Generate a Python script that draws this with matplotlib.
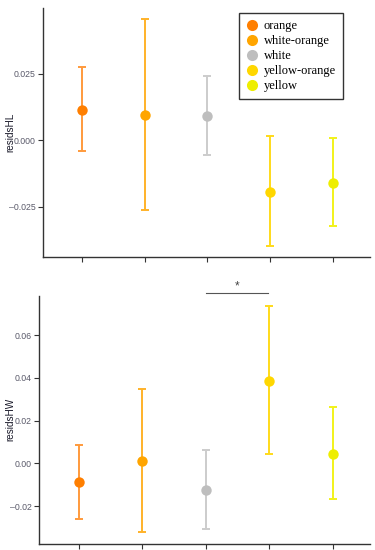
import numpy as np
from matplotlib import pyplot as plt
from matplotlib.lines import Line2D

# data
groups = ["orange", "white-orange", "white", "yellow-orange", "yellow"]
colors = ["#FF7F00", "#FFA500", "#BEBEBE", "#FFD700", "#EEEE00"]
bar_colors = ["#FF9A3C", "#FFB229", "#CCCCCC", "#FFDA1A", "#F2F21A"]

hl_mean = [0.0113, 0.0093, 0.0091, -0.0194, -0.0160]
hl_low = [-0.0040, -0.0262, -0.0055, -0.0397, -0.0323]
hl_high = [0.0274, 0.0455, 0.0242, 0.0016, 0.0010]

hw_mean = [-0.0089, 0.0011, -0.0125, 0.0387, 0.0044]
hw_low = [-0.0260, -0.0321, -0.0309, 0.0042, -0.0168]
hw_high = [0.0086, 0.0348, 0.0064, 0.0736, 0.0262]

hl_ticks = [-0.025, 0.0, 0.025]
hw_ticks = [-0.02, 0.0, 0.02, 0.04, 0.06]

plt.rcParams['font.family'] = ['Liberation Sans', 'DejaVu Sans']

fig = plt.figure(figsize=(3.75, 5.5), dpi=100)
ax1 = fig.add_axes([0.1147, 0.5327, 0.872, 0.4527])
ax2 = fig.add_axes([0.105, 0.0115, 0.882, 0.4509])

x = np.arange(1, len(groups) + 1)


def draw(ax, mean, low, high, ticks, fmt, label, ylim, labelx):
    for i in range(len(groups)):
        ax.errorbar(x[i], mean[i],
                    yerr=[[mean[i] - low[i]], [high[i] - mean[i]]],
                    fmt="none", ecolor=bar_colors[i], elinewidth=1.4,
                    capsize=3, capthick=1.4, zorder=2)
        ax.plot(x[i], mean[i], "o", color=colors[i], markersize=7.5,
                markeredgewidth=0, zorder=3)
    ax.set_xlim(0.38, 5.59)
    ax.set_ylim(*ylim)
    ax.set_xticks(x)
    ax.set_xticklabels([])
    ax.set_yticks(ticks)
    ax.set_yticklabels([fmt.format(t).replace("-", "\u2013") for t in ticks])
    for s in ["top", "right"]:
        ax.spines[s].set_visible(False)
    for s in ["left", "bottom"]:
        ax.spines[s].set_color("#333333")
        ax.spines[s].set_linewidth(1.0)
    ax.tick_params(colors="#333333", labelcolor="#5a5a6a", labelsize=6.3,
                   length=3.5, width=0.8, pad=2)
    ax.set_ylabel(label, fontsize=7.2, color="#1a1a2a")
    ax.yaxis.set_label_coords(labelx, 0.5)


draw(ax1, hl_mean, hl_low, hl_high, hl_ticks, "{:.3f}", "residsHL",
     (-0.0439, 0.0497), -0.0856)
draw(ax2, hw_mean, hw_low, hw_high, hw_ticks, "{:.2f}", "residsHW",
     (-0.0376, 0.0785), -0.0735)

# significance bar between white and yellow-orange
ax2.plot([3.0, 3.98], [0.0799, 0.0799], color="#555555", lw=0.8,
         clip_on=False)
ax2.text(3.49, 0.0800, "*", ha="center", va="bottom", fontsize=8.5,
         color="#444444", clip_on=False)

handles = [Line2D([], [], marker="o", ls="none", color=c, markersize=8,
                  markeredgewidth=0) for c in colors]
leg = ax1.legend(handles, groups, loc="upper right",
                 bbox_to_anchor=(343 / 375, 537 / 550),
                 bbox_transform=fig.transFigure, borderaxespad=0,
                 frameon=True, fancybox=False,
                 prop={"family": "Liberation Serif", "size": 9},
                 handlelength=1.0, handletextpad=0.45, labelspacing=0.24,
                 borderpad=0.55, edgecolor="black")
leg.get_frame().set_linewidth(1.0)

fig.savefig("out.png", dpi=100)
